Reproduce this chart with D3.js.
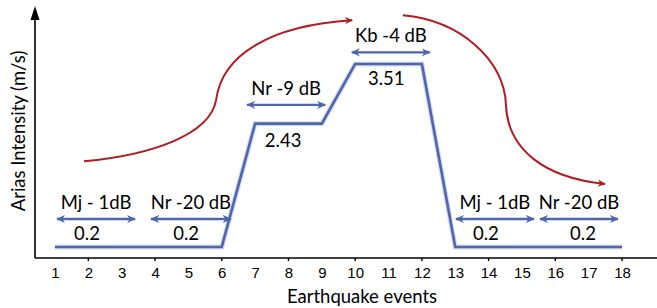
<!DOCTYPE html>
<html><head><meta charset="utf-8">
<script src="https://cdn.jsdelivr.net/npm/d3@7"></script>
<style>body{margin:0;background:#fff}svg{display:block}</style>
</head><body>
<svg id="c" width="657" height="308"></svg>
<script>
// ---- data ----
const events = [1,2,3,4,5,6,7,8,9,10,11,12,13,14,15,16,17,18];
const intensity = [0.2,0.2,0.2,0.2,0.2,0.2,2.43,2.43,2.43,3.51,3.51,3.51,0.2,0.2,0.2,0.2,0.2,0.2];
const tickLabels = events.map(String);
const segLabels = ["Mj - 1dB","Nr -20 dB","Nr -9 dB","Kb -4 dB","Mj - 1dB","Nr -20 dB"];
const segValues = ["0.2","0.2","2.43","3.51","0.2","0.2"];
const segStart = [1.06,3.88,6.76,9.9,13.02,15.54];
const segEnd   = [3.4,6.27,9.1,12.24,15.36,17.88];
const segArrowLevel = [0.705,0.705,2.77,3.72,0.705,0.705];
const segValueX = [1.96,4.93,7.84,10.93,13.92,16.83];
const segValueLevel = [0.41,0.41,2.09,3.21,0.41,0.41];
// red trend arrows (bezier control points in data units)
const trendUpX = [1.87,3.85,5.65,5.83,6.01,7.45,9.91];
const trendUpY = [1.75,1.86,2.22,2.86,3.67,4.21,4.30];
const trendDownX = [11.43,13.14,14.49,14.52,14.58,15.69,17.49];
const trendDownY = [4.39,4.30,3.58,2.77,1.95,1.45,1.34];

// ---- layout ----
const svg = d3.select("#c");
const axisX0 = 35, axisY0 = 258;
const x = d3.scaleLinear().domain([1,18]).range([55,622]);
const y = d3.scaleLinear().domain([0,4.54]).range([axisY0,7]);
const blue = "#4d66ad", red = "#b31b22";
const annFont = "Lato, 'Open Sans', sans-serif";

const defs = svg.append("defs");
function marker(id, color, w, h){
  defs.append("marker").attr("id",id).attr("viewBox","0 0 10 10")
    .attr("refX",9).attr("refY",5).attr("markerWidth",w).attr("markerHeight",h)
    .attr("markerUnits","userSpaceOnUse").attr("orient","auto-start-reverse")
    .append("path").attr("d","M0,0.5 L10,5 L0,9.5 L3,5 Z").attr("fill",color);
}
marker("ab", blue, 9, 9);
marker("ar", red, 10, 8);

defs.append("filter").attr("id","soft").append("feGaussianBlur").attr("stdDeviation",0.5);

// axes
svg.append("line").attr("x1",axisX0).attr("x2",657).attr("y1",axisY0).attr("y2",axisY0)
  .attr("stroke","#000").attr("stroke-width",1.6);
svg.append("line").attr("x1",axisX0).attr("x2",axisX0).attr("y1",axisY0).attr("y2",18)
  .attr("stroke","#000").attr("stroke-width",1.6);
svg.append("path").attr("d",`M${axisX0},6 L${axisX0-4.5},20 L${axisX0+4.5},20 Z`).attr("fill","#000");

const xAxis = d3.axisBottom(x).tickValues(events).tickSize(0).tickPadding(9)
  .tickFormat((d,i)=>tickLabels[i]);
const gx = svg.append("g").attr("transform",`translate(0,${axisY0})`).call(xAxis);
gx.select(".domain").remove();
gx.selectAll("text").attr("font-family","'Liberation Sans', Arial, sans-serif")
  .attr("font-size",15).attr("fill","#000");
svg.append("g").selectAll("line").data(events.filter(d=>d%2===0)).join("line")
  .attr("x1",d=>x(d)).attr("x2",d=>x(d)).attr("y1",axisY0).attr("y2",axisY0+3)
  .attr("stroke","#000").attr("stroke-width",1.4);

// axis titles
svg.append("text").attr("x",362).attr("y",303).attr("text-anchor","middle")
  .attr("font-family",annFont).attr("font-size",18.5).text("Earthquake events");
svg.append("text").attr("transform","translate(25,131) rotate(-90)").attr("text-anchor","middle")
  .attr("font-family",annFont).attr("font-size",18.5).text("Arias Intensity (m/s)");

// blue intensity line
const line = d3.line().x((d,i)=>x(events[i])).y(d=>y(d));
svg.append("path").datum(intensity).attr("d",line).attr("fill","none")
  .attr("stroke","#b8c3e3").attr("stroke-width",5).attr("filter","url(#soft)").attr("opacity",0.6);
svg.append("path").datum(intensity).attr("d",line).attr("fill","none")
  .attr("stroke",blue).attr("stroke-width",2.6).attr("stroke-linejoin","miter");

// segment double arrows and labels
const segs = segLabels.map((l,i)=>({l,i}));
svg.append("g").selectAll("line").data(segs).join("line")
  .attr("x1",d=>x(segStart[d.i])).attr("x2",d=>x(segEnd[d.i]))
  .attr("y1",d=>y(segArrowLevel[d.i])).attr("y2",d=>y(segArrowLevel[d.i]))
  .attr("stroke",blue).attr("stroke-width",2.3)
  .attr("marker-start","url(#ab)").attr("marker-end","url(#ab)");
svg.append("g").selectAll("text").data(segs).join("text")
  .attr("x",d=>x((segStart[d.i]+segEnd[d.i])/2)).attr("y",d=>y(segArrowLevel[d.i])-10)
  .attr("text-anchor","middle").attr("font-family",annFont).attr("font-size",18.5)
  .text(d=>d.l);
svg.append("g").selectAll("text").data(segs).join("text")
  .attr("x",d=>x(segValueX[d.i])).attr("y",d=>y(segValueLevel[d.i]))
  .attr("text-anchor","middle").attr("dominant-baseline","middle")
  .attr("font-family",annFont).attr("font-size",18.5).text((d)=>segValues[d.i]);

// red trend curves
function bez(xs, ys){
  const p = xs.map((v,i)=>[x(v), y(ys[i])]);
  return `M${p[0]} C${p[1]} ${p[2]} ${p[3]} C${p[4]} ${p[5]} ${p[6]}`;
}
svg.append("path").attr("d",bez(trendUpX,trendUpY)).attr("fill","none")
  .attr("stroke",red).attr("stroke-width",2).attr("marker-end","url(#ar)");
svg.append("path").attr("d",bez(trendDownX,trendDownY)).attr("fill","none")
  .attr("stroke",red).attr("stroke-width",2).attr("marker-end","url(#ar)");
</script>
</body></html>
